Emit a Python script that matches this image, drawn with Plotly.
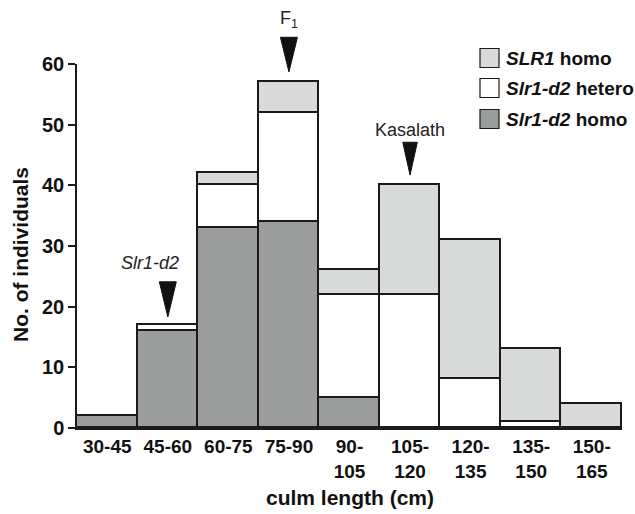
import plotly.graph_objects as go

categories = ["30-45", "45-60", "60-75", "75-90", "90-<br>105", "105-<br>120",
              "120-<br>135", "135-<br>150", "150-<br>165"]
slr1d2_homo = [2, 16, 33, 34, 5, 0, 0, 0, 0]
slr1d2_hetero = [0, 1, 7, 18, 17, 22, 8, 1, 0]
slr1_homo = [0, 0, 2, 5, 4, 18, 23, 12, 4]
y_ticks = [0, 10, 20, 30, 40, 50, 60]

series_names = ["<i>SLR1</i> homo", "<i>Slr1-d2</i> hetero", "<i>Slr1-d2</i> homo"]
series_colors = ["#d9dbdb", "#ffffff", "#9b9c9c"]

FONT = "Liberation Sans, Arial, sans-serif"
L, R, T, B = 77, 13, 64, 86
W, H = 635, 514
PW, PH = W - L - R, H - T - B
Y_MAX = 60
X_RANGE = [-0.5, len(categories) - 0.5]

xs = list(range(len(categories)))

fig = go.Figure()
for vals, color, name in [(slr1d2_homo, series_colors[2], series_names[2]),
                          (slr1d2_hetero, series_colors[1], series_names[1]),
                          (slr1_homo, series_colors[0], series_names[0])]:
    fig.add_trace(go.Bar(x=xs, y=vals, width=1, name=name,
                         marker=dict(color=color, line=dict(color="#1a1a1a", width=1.6)),
                         showlegend=False))

def px2paper_x(px):
    return (px - L) / PW

def py2paper_y(py):
    return (H - B - py) / PH

def dx2paper(x):
    return (x - X_RANGE[0]) / (X_RANGE[1] - X_RANGE[0])

def dy2paper(y):
    return y / Y_MAX

shapes = []
annotations = []

# manual legend
legend_rows = [58, 88, 119]
for name, color, cy in zip(series_names, series_colors, legend_rows):
    shapes.append(dict(type="rect", xref="paper", yref="paper",
                       x0=px2paper_x(480), x1=px2paper_x(499),
                       y0=py2paper_y(cy + 9.5), y1=py2paper_y(cy - 9.5),
                       fillcolor=color, line=dict(color="#1a1a1a", width=1.2)))
    annotations.append(dict(xref="paper", yref="paper", x=px2paper_x(504),
                            y=py2paper_y(cy), xanchor="left", yanchor="middle",
                            text=name, showarrow=False,
                            font=dict(family=FONT, size=19, color="#111", weight="bold")))

# arrow markers (label, bar index, text x offset, text y, top y, tip y, half width)
markers = [
    ("F<sub>1</sub>", 3, 0.0, 67.3, 64.4, 58.7, 0.14),
    ("<i>Slr1-d2</i>", 1, -0.3, 27.2, 24.1, 18.3, 0.14),
    ("Kasalath", 5, 0.0, 49.1, 47.1, 41.7, 0.12),
]
for label, xi, dx, ty, top, tip, hw in markers:
    p = (f"M{dx2paper(xi-hw)},{dy2paper(top)} L{dx2paper(xi+hw)},{dy2paper(top)} "
         f"L{dx2paper(xi)},{dy2paper(tip)} Z")
    shapes.append(dict(type="path", xref="paper", yref="paper", path=p,
                       fillcolor="#111", line=dict(color="#111", width=1)))
    annotations.append(dict(xref="paper", yref="paper", x=dx2paper(xi + dx),
                            y=dy2paper(ty), text=label,
                            showarrow=False, xanchor="center", yanchor="middle",
                            font=dict(family=FONT, size=18, color="#222")))

# axis titles
annotations.append(dict(xref="paper", yref="paper", x=0.5, y=py2paper_y(497),
                        text="culm length (cm)", showarrow=False,
                        xanchor="center", yanchor="middle",
                        font=dict(family=FONT, size=21, color="#111", weight="bold")))
annotations.append(dict(xref="paper", yref="paper", x=px2paper_x(20), y=py2paper_y(255),
                        text="No. of individuals", showarrow=False, textangle=-90,
                        xanchor="center", yanchor="middle",
                        font=dict(family=FONT, size=21, color="#111", weight="bold")))

fig.update_layout(
    width=W, height=H,
    margin=dict(l=L, r=R, t=T, b=B),
    barmode="stack", bargap=0,
    plot_bgcolor="white", paper_bgcolor="white",
    shapes=shapes, annotations=annotations,
    xaxis=dict(range=X_RANGE, tickvals=xs, ticktext=categories,
               showline=True, linecolor="#1a1a1a", linewidth=2,
               ticks="", showgrid=False, zeroline=False,
               tickfont=dict(family=FONT, size=19, color="#111", weight="bold")),
    yaxis=dict(range=[0, Y_MAX], tickvals=y_ticks, showline=True, linecolor="#1a1a1a",
               linewidth=1.5, ticks="outside", ticklen=7, tickwidth=1.5,
               tickcolor="#1a1a1a", showgrid=False, zeroline=False,
               tickfont=dict(family=FONT, size=20, color="#111", weight="bold")),
)

fig.write_html("out.html")
